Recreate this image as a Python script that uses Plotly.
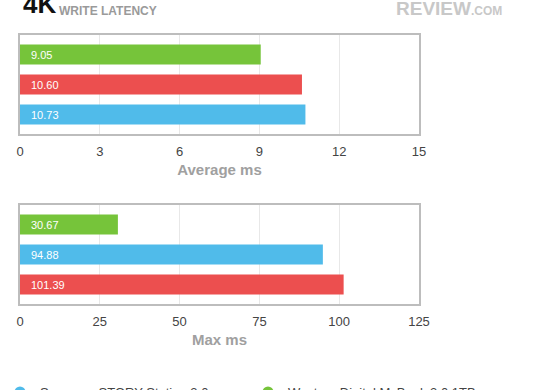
import plotly.graph_objects as go

# ---- data ----
series_names = ["Samsung STORY Station 3.0", "Western Digital MyBook 3.0 1TB", "Seagate Backup Plus 1TB"]
series_colors = ["#50bbea", "#76c43a", "#ec4f4f"]

avg_order = ["Western Digital MyBook 3.0 1TB", "Seagate Backup Plus 1TB", "Samsung STORY Station 3.0"]
avg_values = [9.05, 10.60, 10.73]
avg_ticks = [0, 3, 6, 9, 12, 15]

max_order = ["Western Digital MyBook 3.0 1TB", "Samsung STORY Station 3.0", "Seagate Backup Plus 1TB"]
max_values = [30.67, 94.88, 101.39]
max_ticks = [0, 25, 50, 75, 100, 125]

color_of = dict(zip(series_names, series_colors))

W, H = 560, 390
def py(px):
    return 1 - px / H

FONT = "Liberation Sans, Arial, sans-serif"

fig = go.Figure()

fig.add_trace(go.Bar(
    x=avg_values, y=avg_order, orientation="h",
    marker=dict(color=[color_of[n] for n in avg_order], line=dict(width=0)),
    width=0.667, showlegend=False, hoverinfo="x",
    xaxis="x", yaxis="y",
))
fig.add_trace(go.Bar(
    x=max_values, y=max_order, orientation="h",
    marker=dict(color=[color_of[n] for n in max_order], line=dict(width=0)),
    width=0.667, showlegend=False, hoverinfo="x",
    xaxis="x2", yaxis="y2",
))

# legend entries (circle symbols)
for n, c in zip(series_names, series_colors):
    fig.add_trace(go.Scatter(
        x=[None], y=[None], mode="markers", name=n,
        marker=dict(symbol="circle", size=11, color=c),
        xaxis="x", yaxis="y",
    ))

annotations = []
for v, n in zip(avg_values, avg_order):
    annotations.append(dict(x=0, y=n, xref="x", yref="y", text="%.2f" % v,
                            showarrow=False, xanchor="left", xshift=9,
                            font=dict(family=FONT, size=11, color="white")))
for v, n in zip(max_values, max_order):
    annotations.append(dict(x=0, y=n, xref="x2", yref="y2", text="%.2f" % v,
                            showarrow=False, xanchor="left", xshift=9,
                            font=dict(family=FONT, size=11, color="white")))

annotations += [
    dict(x=21 / W, y=py(21), xref="paper", yref="paper", xanchor="left", yanchor="bottom",
         text="<b>4K</b>", showarrow=False, font=dict(family=FONT, size=26, color="#111")),
    dict(x=57 / W, y=py(11), xref="paper", yref="paper", xanchor="left", yanchor="middle",
         text="<b>WRITE LATENCY</b>", showarrow=False, font=dict(family=FONT, size=12, color="#9a9a9a")),
    dict(x=504 / W, y=py(8), xref="paper", yref="paper", xanchor="right", yanchor="middle",
         text="<b>REVIEW</b><span style='font-size:12px'><b>.COM</b></span>", showarrow=False,
         font=dict(family=FONT, size=19, color="#c8c8c8")),
]

x0, x1 = 20 / W, 419 / W
axis_common = dict(
    showgrid=True, gridcolor="#e8e8e8", gridwidth=1,
    showline=True, linecolor="#bdbdbd", linewidth=1.5, mirror=True,
    zeroline=False, ticks="outside", ticklen=5, tickcolor="rgba(0,0,0,0)",
    tickfont=dict(family=FONT, size=13, color="#444"),
    fixedrange=True, automargin=False,
)
yaxis_common = dict(
    showgrid=False, showline=True, linecolor="#bdbdbd", linewidth=1.5, mirror=True,
    showticklabels=False, ticks="", zeroline=False, fixedrange=True,
    range=[2.65, -0.65], automargin=False,
)

fig.update_layout(
    width=W, height=H, autosize=False,
    margin=dict(l=0, r=0, t=0, b=0, autoexpand=False),
    paper_bgcolor="white", plot_bgcolor="white",
    font=dict(family=FONT),
    xaxis=dict(domain=[x0, x1], range=[0, 15], tickvals=avg_ticks, anchor="y",
               title=dict(text="<b>Average ms</b>", standoff=6,
                          font=dict(family=FONT, size=15, color="#a0a0a0")),
               **axis_common),
    yaxis=dict(domain=[py(134), py(35)], anchor="x", **yaxis_common),
    xaxis2=dict(domain=[x0, x1], range=[0, 125], tickvals=max_ticks, anchor="y2",
                title=dict(text="<b>Max ms</b>", standoff=6,
                           font=dict(family=FONT, size=15, color="#a0a0a0")),
                **axis_common),
    yaxis2=dict(domain=[py(304), py(205)], anchor="x2", **yaxis_common),
    legend=dict(orientation="h", xref="container", yref="container",
                x=0, y=py(377), xanchor="left", yanchor="top",
                entrywidth=203, entrywidthmode="pixels", itemwidth=30,
                font=dict(family=FONT, size=13, color="#444"), bgcolor="rgba(0,0,0,0)"),
    annotations=annotations,
    bargap=0.33,
)

fig.write_html("out.html", config={"displayModeBar": False},
               post_script="document.body.style.margin='0';document.body.style.overflow='hidden';")
